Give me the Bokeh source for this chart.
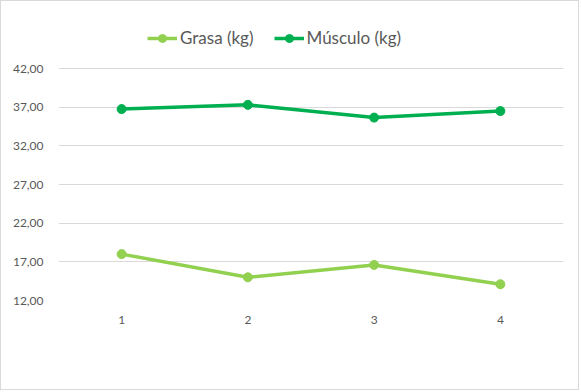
from bokeh.plotting import figure
from bokeh.models import FactorRange, Range1d, FixedTicker, CustomJSTickFormatter, Legend, LegendItem
from bokeh.embed import file_html
from bokeh.resources import INLINE

categories = ["1", "2", "3", "4"]
grasa = [18.0, 15.0, 16.6, 14.1]
musculo = [36.75, 37.3, 35.65, 36.5]
y_ticks = [12, 17, 22, 27, 32, 37, 42]

GRASA_COLOR = "#92D050"
MUSC_COLOR = "#00B050"
TEXT_COLOR = "#595959"
FONT = "Lato"

# headroom above the top gridline keeps the legend inside the plot frame
Y_TOP = 42 + 57 / (232 / 30)

p = figure(
    width=579, height=390,
    x_range=FactorRange(*categories, range_padding=0),
    y_range=Range1d(12, Y_TOP),
    output_backend="svg", toolbar_location=None,
    min_border_left=57, min_border_right=17,
    min_border_top=10, min_border_bottom=91,
)
p.styles = {"border": "1px solid #D9D9D9"}
p.outline_line_color = None
p.background_fill_color = "white"
p.border_fill_color = "white"

p.xgrid.grid_line_color = None
p.ygrid.grid_line_color = "#D9D9D9"
p.ygrid.grid_line_width = 1

p.yaxis.ticker = FixedTicker(ticks=y_ticks)
p.yaxis.formatter = CustomJSTickFormatter(code="return tick.toFixed(2).replace('.', ',');")
for ax in (p.xaxis, p.yaxis):
    ax.axis_line_color = None
    ax.major_tick_line_color = None
    ax.minor_tick_line_color = None
    ax.major_tick_out = 0
    ax.major_tick_in = 0
    ax.major_label_text_color = TEXT_COLOR
    ax.major_label_text_font = FONT
    ax.major_label_text_font_size = "12px"
p.yaxis.major_label_standoff = 15
p.xaxis.major_label_standoff = 15

l1 = p.line(categories, grasa, line_color=GRASA_COLOR, line_width=3.5)
c1 = p.scatter(categories, grasa, size=9, fill_color=GRASA_COLOR, line_color=GRASA_COLOR)
l2 = p.line(categories, musculo, line_color=MUSC_COLOR, line_width=3.5)
c2 = p.scatter(categories, musculo, size=9, fill_color=MUSC_COLOR, line_color=MUSC_COLOR)

legend = Legend(
    items=[LegendItem(label="Grasa (kg)", renderers=[l1, c1]),
           LegendItem(label="Músculo (kg)", renderers=[l2, c2])],
    orientation="horizontal",
    location=(89, 252),
    padding=0, margin=0, spacing=20,
    label_standoff=3,
    glyph_width=30, glyph_height=20,
    label_text_font=FONT, label_text_font_size="17px",
    label_text_color=TEXT_COLOR,
    border_line_color=None, background_fill_alpha=0,
)
p.add_layout(legend, "center")

open("out.html", "w").write(file_html(p, INLINE))
